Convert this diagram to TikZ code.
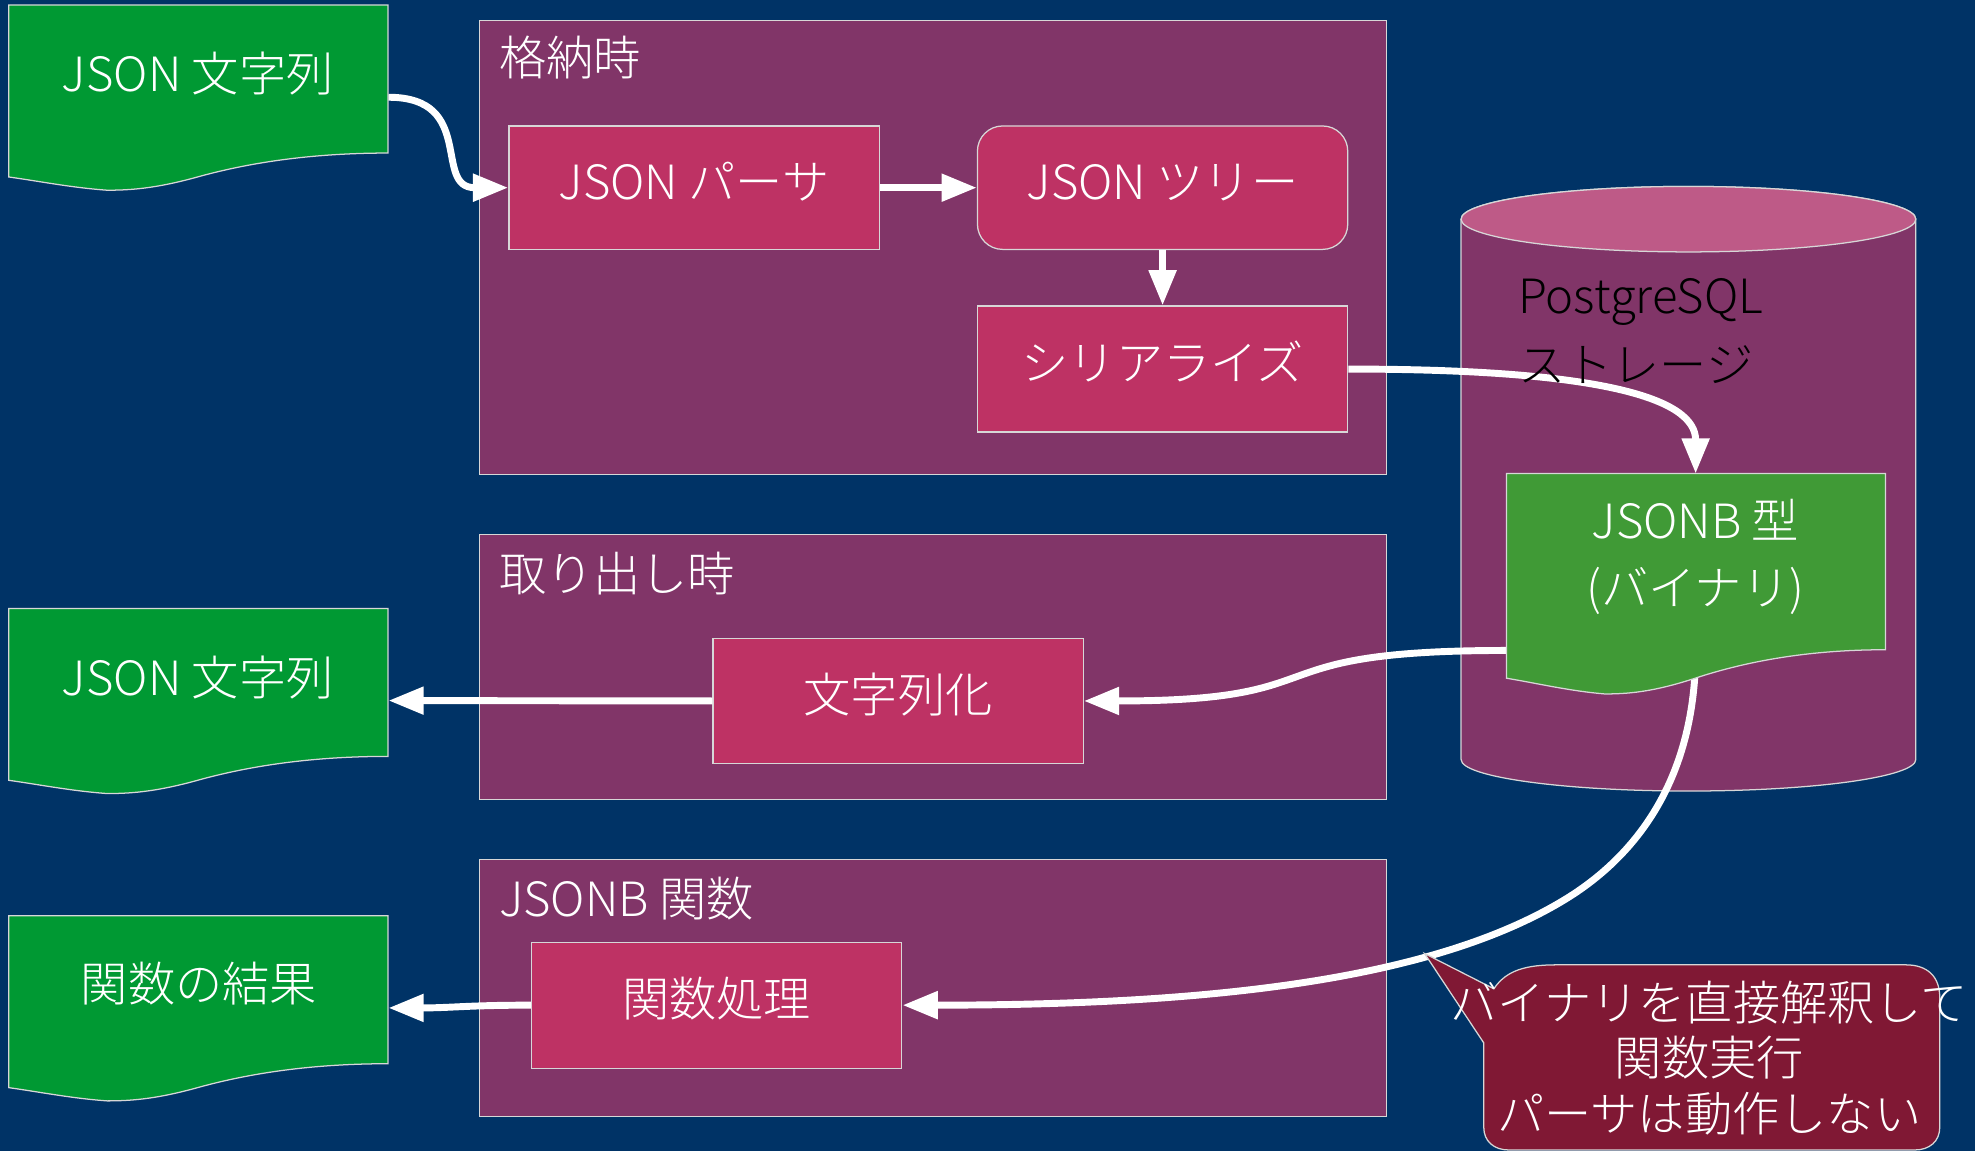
\documentclass[tikz,border=0pt]{standalone}
\usepackage{fontspec}
\setmainfont{Noto Sans CJK JP}[UprightFont={* Light}]
\usetikzlibrary{arrows.meta}
\definecolor{bgc}{RGB}{0,51,102}
\definecolor{grpc}{RGB}{129,53,104}
\definecolor{boxc}{RGB}{190,50,100}
\definecolor{docc}{RGB}{0,153,51}
\definecolor{jdocc}{RGB}{64,154,54}
\definecolor{cyltop}{RGB}{190,90,135}
\definecolor{callc}{RGB}{128,24,52}
\definecolor{edgec}{RGB}{215,215,215}
\newcommand\dgfont{\fontsize{37.5pt}{44pt}\selectfont}
\newcommand\docshape[4]{%
  \begin{scope}[shift={(#1,-#2)}, yscale=#3]
    \filldraw[fill=#4, draw=edgec, line width=1pt]
      (0,0) -- (301,0) -- (301,-117.5)
      .. controls (230,-117.5) and (180,-128) .. (148,-137)
      .. controls (115,-146) and (95,-147) .. (78,-147)
      .. controls (50,-145) and (25,-140) .. (0,-136.5) -- cycle;
  \end{scope}}
\begin{document}
\begin{tikzpicture}[x=1pt,y=1pt,
  grp/.style={draw=edgec, line width=1pt, fill=grpc, rectangle, inner sep=0pt, anchor=north west},
  proc/.style={draw=edgec, line width=1pt, fill=boxc, rectangle, inner sep=0pt,
    minimum width=294pt, text=white, font=\dgfont, text height=30pt, text depth=12pt},
  docanchor/.style={rectangle, inner sep=0pt, minimum width=301pt, anchor=north west},
  txt/.style={text=white, font=\dgfont, inner sep=0pt},
  darktxt/.style={text=black, font=\dgfont, inner sep=0pt},
  arr/.style={draw=white, line width=5.5pt, -{Triangle[length=28pt,width=21pt]}},
]
\clip (0,0) rectangle (1568,-914);
\fill[bgc] (0,0) rectangle (1568,-914);

% groups
\node[grp, minimum width=720pt, minimum height=360pt] (g1) at (380,-16) {};
\node[grp, minimum width=720pt, minimum height=210pt] (g2) at (380,-424) {};
\node[grp, minimum width=720pt, minimum height=204pt] (g3) at (380,-682) {};
\node[txt, anchor=west] (l1) at (396,-46) {格納時};
\node[txt, anchor=west] (l2) at (396,-455) {取り出し時};
\node[txt, anchor=west] (l3) at (396,-713) {JSONB 関数};

% cylinder (storage)
\filldraw[fill=grpc, draw=edgec, line width=1pt]
  (1160,-174) -- (1160,-603)
  arc[start angle=180, end angle=360, x radius=180.5pt, y radius=25pt]
  -- (1521,-174)
  arc[start angle=0, end angle=180, x radius=180.5pt, y radius=26pt] -- cycle;
\filldraw[fill=cyltop, draw=edgec, line width=1pt]
  (1340.5,-174) ellipse[x radius=180.5pt, y radius=26pt];

% process boxes
\node[proc, minimum height=98pt] (parser) at (551,-149) {JSON パーサ};
\node[proc, minimum height=98pt, rounded corners=20pt] (tree) at (923,-149) {JSON ツリー};
\node[proc, minimum height=100pt] (serial) at (923,-293) {シリアライズ};
\node[proc, minimum height=99pt] (strz) at (713,-556.5) {文字列化};
\node[proc, minimum height=100pt] (func) at (569,-798) {関数処理};

% document anchors
\node[docanchor, minimum height=146pt] (doc1) at (7,-4) {};
\node[docanchor, minimum height=146pt] (doc2) at (7,-483) {};
\node[docanchor, minimum height=146pt] (doc3) at (7,-727) {};
\node[docanchor, minimum width=300pt, minimum height=140pt] (jdoc) at (1196,-376) {};

% connectors
\draw[arr] (doc1.east) .. controls +(70,0) and +(-60,0) .. (parser.west);
\draw[arr] (parser.east) -- (tree.west);
\draw[arr] (tree.south) -- (serial.north);
\draw[arr] (serial.east) .. controls +(200,0) and +(0,60) .. (jdoc.north);
\draw[arr] (jdoc.south west) .. controls +(-210,0) and +(210,0) .. (strz.east);
\draw[arr] (strz.west) -- (doc2.east);
\draw[arr] (jdoc.south) .. controls +(0,-100) and (1301,-679) .. (1241,-715)
  .. controls (1138,-777) and (966,-798) .. (func.east);
\draw[arr] (func.west) .. controls +(-50,0) and +(50,0) .. (doc3.east);

% documents
\docshape{7}{4}{1}{docc}
\docshape{7}{483}{1}{docc}
\docshape{7}{727}{1}{docc}
\docshape{1196}{376}{1.19}{jdocc}

\node[txt] (t1) at (157,-58) {JSON 文字列};
\node[txt] (t2) at (157,-538) {JSON 文字列};
\node[txt] (t3) at (158,-781) {関数の結果};
\node[txt] (t4) at (1346,-413) {JSONB 型};
\node[txt] (t5) at (1346,-469) {(バイナリ)};

% storage label
\node[darktxt, anchor=base west] (s1) at (1205,-249) {PostgreSQL};
\node[darktxt, anchor=base west] (s2) at (1205,-304) {ストレージ};

% callout
\filldraw[fill=callc, draw=edgec, line width=1pt]
  (1178,-828) -- (1131,-757) -- (1186,-785)
  .. controls (1196,-770) and (1212,-766) .. (1236,-766)
  -- (1513,-766) .. controls (1530,-766) and (1540,-775) .. (1540,-792)
  -- (1540,-895) .. controls (1540,-906) and (1532,-913) .. (1520,-913)
  -- (1198,-913) .. controls (1186,-913) and (1178,-906) .. (1178,-895) -- cycle;
\node[txt, align=center] (note) at (1357,-840) {バイナリを直接解釈して\\関数実行\\パーサは動作しない};
\end{tikzpicture}
\end{document}
